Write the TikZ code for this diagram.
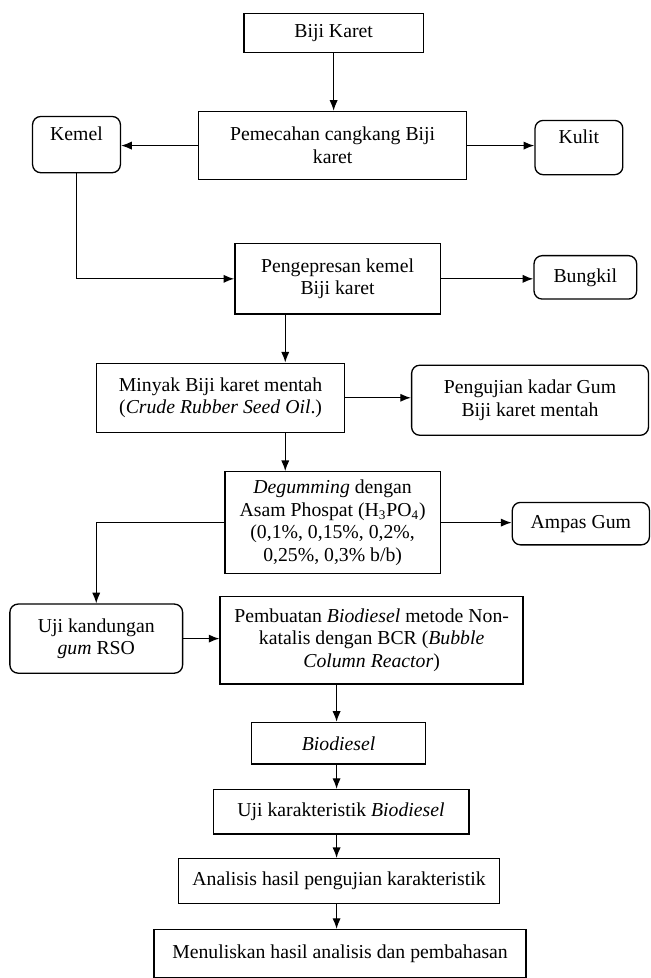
\documentclass[tikz,border=0pt]{standalone}
\usepackage{fontspec}
\setmainfont{Liberation Serif}
\usetikzlibrary{positioning}
\usetikzlibrary{arrows.meta}
\tikzset{
    mybox/.style = {rectangle, draw=black, line width=0.8pt, align=center, inner sep=1pt, font=\fontsize{12pt}{13.8pt}\selectfont},
    myboxr/.style = {mybox, rounded corners=5pt},
    edgen/.style = {-{Latex[length=6.5pt,width=5pt]}, line width=0.8pt}
}
\begin{document}
\begin{tikzpicture}[x=0.6pt,y=-0.6pt]
%
\node[mybox, minimum width=109pt, minimum height=23.4pt] at (338,33.5) (bijikaret) {Biji Karet};
\node[mybox, minimum width=163pt, minimum height=41.4pt] at (337,147.5) (pemecahan) {Pemecahan cangkang Biji\\karet};
\node[myboxr, minimum width=53.4pt, minimum height=34.2pt] at (77.5,146.5) (kemel) {Kemel\\~};
\node[myboxr, minimum width=53.4pt, minimum height=33pt] at (586.5,149.5) (kulit) {Kulit\\~};
\node[mybox, minimum width=124.8pt, minimum height=42.6pt] at (342,282.5) (pengepresan) {Pengepresan kemel\\Biji karet};
\node[myboxr, minimum width=62.4pt, minimum height=26.4pt] at (593,281) (bungkil) {Bungkil};
\node[mybox, minimum width=150.6pt, minimum height=42pt] at (223.5,403) (minyak) {Minyak Biji karet mentah\\(\textit{Crude Rubber Seed Oil}.)};
\node[myboxr, minimum width=144pt, minimum height=42.6pt] at (537,405.5) (pengujian) {Pengujian kadar Gum\\Biji karet mentah};
\node[mybox, minimum width=130.8pt, minimum height=61.8pt] at (337,529.5) (degumming) {\textit{Degumming} dengan\\Asam Phospat (H\textsubscript{3}PO\textsubscript{4})\\(0,1\%, 0,15\%, 0,2\%,\\0,25\%, 0,3\% b/b)};
\node[myboxr, minimum width=83.4pt, minimum height=25.8pt] at (588.5,530.5) (ampas) {Ampas Gum};
\node[myboxr, minimum width=105pt, minimum height=42pt] at (97.5,647) (ujigum) {Uji kandungan\\\textit{gum} RSO};
\node[mybox, minimum width=184.2pt, minimum height=53.4pt] at (376.5,648.5) (pembuatan) {Pembuatan \textit{Biodiesel} metode Non-\\katalis dengan BCR (\textit{Bubble}\\\textit{Column Reactor})};
\node[mybox, minimum width=105.6pt, minimum height=25.2pt] at (343,753) (biodiesel) {\textit{Biodiesel}};
\node[mybox, minimum width=155.4pt, minimum height=27pt] at (345.5,822.5) (ujikar) {Uji karakteristik \textit{Biodiesel}};
\node[mybox, minimum width=195pt, minimum height=27pt] at (343.5,892.5) (analisis) {Analisis hasil pengujian karakteristik};
\node[mybox, minimum width=226.2pt, minimum height=29pt] at (344.5,966) (menulis) {Menuliskan hasil analisis dan pembahasan};
%
\coordinate (xa) at (289,0);
\coordinate (xb) at (341,0);
%
\draw[edgen] (bijikaret.south) -- (bijikaret.south |- pemecahan.north);
\draw[edgen] (pemecahan.west) -- (pemecahan.west -| kemel.east);
\draw[edgen] (pemecahan.east) -- (pemecahan.east -| kulit.west);
\draw[edgen] (kemel.south) |- (pengepresan.west);
\draw[edgen] (pengepresan.east) -- (pengepresan.east -| bungkil.west);
\draw[edgen] (pengepresan.south -| xa) -- (minyak.north -| xa);
\draw[edgen] (minyak.east) -- (minyak.east -| pengujian.west);
\draw[edgen] (minyak.south -| xa) -- (degumming.north -| xa);
\draw[edgen] (degumming.east) -- (degumming.east -| ampas.west);
\draw[edgen] (degumming.west) -| (ujigum.north);
\draw[edgen] (ujigum.east) -- (ujigum.east -| pembuatan.west);
\draw[edgen] (pembuatan.south -| xb) -- (biodiesel.north -| xb);
\draw[edgen] (biodiesel.south -| xb) -- (ujikar.north -| xb);
\draw[edgen] (ujikar.south -| xb) -- (analisis.north -| xb);
\draw[edgen] (analisis.south -| xb) -- (menulis.north -| xb);

\path[use as bounding box] (0,0) rectangle (659,978);
\end{tikzpicture}
\end{document}
